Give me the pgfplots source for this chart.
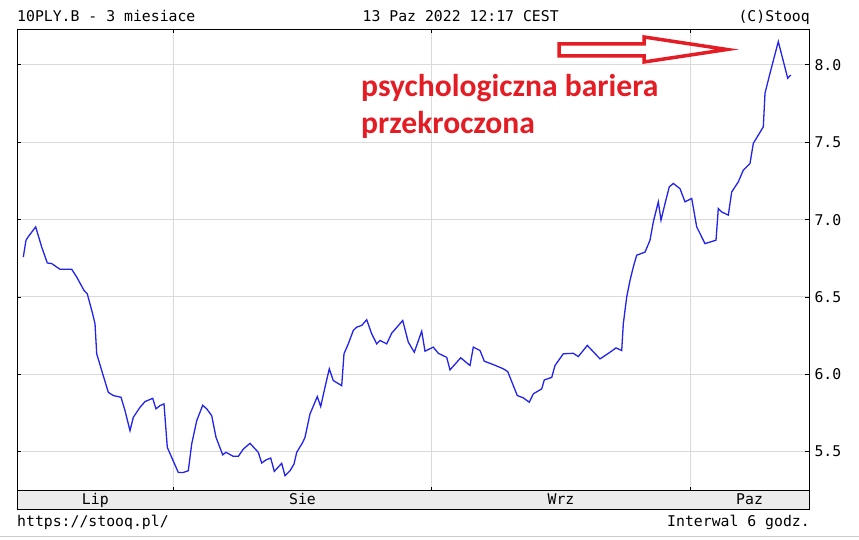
\documentclass[border=0pt]{standalone}
\usepackage{fontspec}
\usepackage{pgfplots}
\pgfplotsset{compat=1.18}
\newfontfamily\mono{DejaVu Sans Mono}
\newfontfamily\calib{Carlito}
\definecolor{lineblue}{RGB}{35,35,235}
\definecolor{annred}{RGB}{228,28,36}
\definecolor{gridgray}{RGB}{218,218,218}
\definecolor{bandgray}{RGB}{236,236,236}
\newcommand{\mf}{\mono\fontsize{14.8}{16}\selectfont}
\begin{document}
\begin{tikzpicture}[x=1pt,y=1pt]
\useasboundingbox (0,0) rectangle (859,540);
\fill[white] (0,0) rectangle (859,540);
\begin{axis}[
 at={(17.3pt,49.3pt)}, anchor=south west,
 scale only axis, width=792pt, height=461.2pt,
 xmin=17.3, xmax=809.3, ymin=5.248, ymax=8.229,
 xtick={173.3,431.7,690}, xticklabels={},
 ytick={5.5,6.0,6.5,7.0,7.5,8.0},
 yticklabel pos=right,
 xtick pos=both, ytick pos=both,
 tick align=inside, major tick length=4pt,
 grid=major, major grid style={gridgray, line width=1pt},
 axis line style={black, line width=0.9pt},
 tick style={black, line width=0.9pt},
 yticklabel style={font=\mf, anchor=west, inner sep=0pt, xshift=5pt},
 yticklabel={\pgfmathprintnumber[fixed,fixed zerofill,precision=1,assume math mode=true]{\tick}},
]
\addplot[lineblue, line width=1.3pt] coordinates {
(23.3,6.758) (26,6.867) (28.3,6.89) (35.7,6.953) (41.7,6.823) (47.3,6.72) (51.7,6.716) (60,6.679) (71.7,6.679) (76.7,6.629)
(84,6.543) (87.3,6.52) (92.7,6.39) (95,6.327) (96.7,6.133) (101.7,6.025) (108.3,5.884) (113.3,5.863) (121,5.852) (125,5.766)
(130,5.636) (133.3,5.722) (140,5.787) (145,5.824) (152.7,5.845) (156,5.777) (160,5.798) (164,5.809) (167.3,5.528) (171.7,5.463)
(178.3,5.366) (183.3,5.366) (188.3,5.377) (191.7,5.55) (196.7,5.70) (202.7,5.80) (206.7,5.777) (211.7,5.733) (216,5.593) (222.7,5.48)
(226,5.496) (233.3,5.47) (238.3,5.47) (243.3,5.517) (250,5.554) (258.3,5.496) (261.7,5.427) (266,5.447) (270.7,5.459) (274.3,5.373)
(281.7,5.425) (285,5.345) (290,5.377) (294,5.42) (296.7,5.496) (302.7,5.56) (305,5.593) (310,5.744) (317.3,5.856) (320.7,5.792)
(325,5.917) (329.3,6.036) (333.3,5.96) (341.7,5.927) (344,6.133) (348.3,6.197) (353.3,6.284) (356.7,6.305) (361.7,6.316) (366.7,6.353)
(371.7,6.262) (376.7,6.197) (380,6.219) (386.7,6.197) (391.7,6.266) (402.7,6.348) (408.3,6.208) (414.3,6.143) (421.7,6.279) (425,6.15)
(433.3,6.176) (438.3,6.136) (446.7,6.11) (450,6.029) (460.7,6.107) (470,6.057) (473.3,6.176) (480,6.154) (484.3,6.085) (493.3,6.063)
(503.3,6.036) (507.7,6.018) (513.3,5.927) (517.3,5.863) (523.3,5.848) (529.3,5.82) (533.3,5.874) (541.7,5.906) (544.3,5.964) (551.7,5.98)
(555,6.057) (563.3,6.133) (573.3,6.136) (578.3,6.115) (587.3,6.187) (600,6.10) (610,6.143) (616,6.171) (621.7,6.154) (623.3,6.327)
(626.7,6.5) (630,6.607) (633.3,6.694) (636.7,6.77) (645,6.79) (650,6.867) (653.3,6.985) (658.3,7.115) (661,6.996) (665,7.104)
(669.3,7.212) (673.3,7.234) (680,7.20) (685,7.115) (691.7,7.137) (696.7,6.953) (705,6.845) (716,6.867) (718.3,7.072) (721.7,7.05)
(728.3,7.029) (731.7,7.179) (738.3,7.244) (743.3,7.32) (750,7.363) (753.3,7.493) (758.3,7.546) (763.3,7.60) (765,7.817) (770,7.946)
(778.3,8.151) (781.7,8.065) (787.7,7.914) (790.7,7.935)
};
\end{axis}
% month band
\draw[fill=bandgray, line width=0.9pt] (17.3,30.7) rectangle (809.3,49.3);
\foreach \xx/\mm in {95.3/Lip, 302.5/Sie, 561/Wrz, 749.6/Paz}
  \node[anchor=base, inner sep=0pt, font=\mf] at (\xx,35.5) {\mm};
% header and footer
\node[anchor=base west, inner sep=0pt, font=\mf] at (17,518.3) {10PLY.B - 3 miesiace};
\node[anchor=base, inner sep=0pt, font=\mf] at (460.7,518.3) {13 Paz 2022 12:17 CEST};
\node[anchor=base east, inner sep=0pt, font=\mf] at (810,518.3) {(C)Stooq};
\node[anchor=base west, inner sep=0pt, font=\mf] at (17,13) {https://stooq.pl/};
\node[anchor=base east, inner sep=0pt, font=\mf] at (810,13) {Interwal 6 godz.};
\draw[gray!40, line width=1pt] (0,3) -- (859,3);
% annotation
\node[anchor=base west, inner sep=0pt, text=annred, font=\calib\bfseries\fontsize{31.6}{36}\selectfont] at (361,443) {psychologiczna bariera};
\node[anchor=base west, inner sep=0pt, text=annred, font=\calib\bfseries\fontsize{31.6}{36}\selectfont] at (361,406) {przekroczona};
\draw[annred, line width=3.5pt, line join=miter] (559,496) -- (644,496) -- (644,503) -- (727,490.5) -- (644,478) -- (644,484) -- (559,484) -- cycle;
\end{tikzpicture}
\end{document}
